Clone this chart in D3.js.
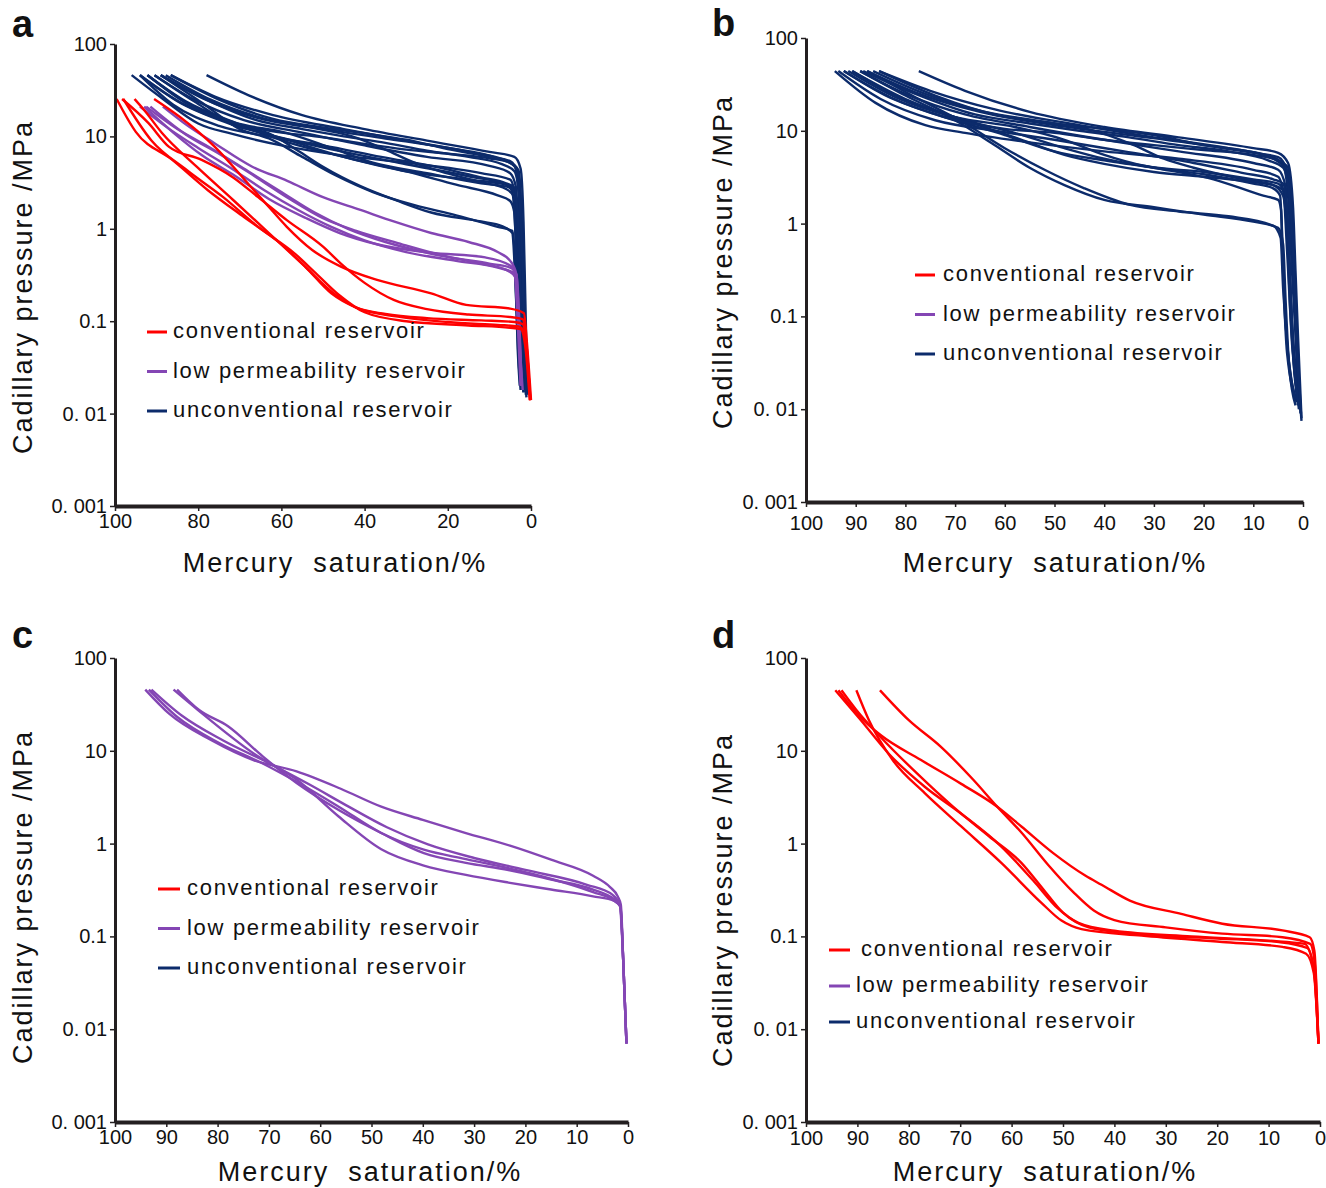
<!DOCTYPE html>
<html>
<head>
<meta charset="utf-8">
<script src="https://cdn.jsdelivr.net/npm/d3@7"></script>
<style>
  body { margin: 0; background: #fff; }
  svg { display: block; }
  text { font-family: "Liberation Sans", Arial, sans-serif; fill: #111; }
</style>
</head>
<body>
<div id="chart-area"></div>
<script>
// tick values and labels
const yTicks = [100, 10, 1, 0.1, 0.01, 0.001];
const yTickLabels = ["100", "10", "1", "0.1", "0. 01", "0. 001"];
const xTicksA = [100, 80, 60, 40, 20, 0];
const xTicksBCD = [100, 90, 80, 70, 60, 50, 40, 30, 20, 10, 0];

const legendLabels = ["conventional reservoir", "low permeability reservoir", "unconventional reservoir"];
const red = "#ff0000", purple = "#8446b4", navy = "#0c2b6b";
const legendColors = [red, purple, navy];

// curves: [mercury saturation %, capillary pressure MPa]
// panel a
const aConventional = [
  [[90.6,25.4],[84.4,16.2],[76,7.7],[67.3,2.83],[63,1.72],[58.7,1.05],[52.6,0.59],[45.7,0.39],[37,0.28],[24,0.2],[15.6,0.15],[5,0.137],[1.7,0.122],[1,0.06],[0,0.014]],
  [[98.3,25.4],[92,14],[87,7.7],[79.3,5.6],[71.6,3.6],[65.6,2.2],[58.7,1.24],[50,0.64],[45.7,0.42],[40,0.26],[33,0.17],[25,0.135],[15,0.118],[5,0.111],[2,0.105],[1,0.05],[0.2,0.014]],
  [[95.3,25.4],[93,19.3],[88.7,10.9],[80.3,4.67],[71.6,2.05],[63,0.9],[54.3,0.39],[47.4,0.2],[42,0.14],[35,0.12],[25,0.108],[12,0.102],[4,0.098],[2,0.093],[1,0.05],[0.2,0.014]],
  [[99.6,25.4],[95,11.2],[86.3,5.6],[77.6,2.6],[69,1.34],[60.3,0.7],[54.3,0.39],[48,0.2],[42,0.14],[32,0.112],[20,0.098],[8,0.091],[3,0.088],[1.5,0.075],[0.7,0.03],[0.1,0.014]],
  [[98,25.4],[91.3,9.1],[82.7,4.3],[74,2.2],[65.6,1.05],[57,0.55],[51.7,0.33],[46,0.19],[40,0.125],[30,0.1],[15,0.09],[5,0.085],[2.5,0.082],[1.3,0.05],[0.3,0.014]]
];
const aLowPerm = [
  [[88.5,21],[83,13.5],[76,8.4],[67,4.7],[58.6,3.3],[50,2.2],[41,1.6],[33,1.2],[24,0.9],[15,0.72],[8,0.56],[5,0.45],[3.5,0.32],[2.8,0.1],[2.3,0.02]],
  [[93,21],[86,11],[79,6.2],[71,3.7],[63,2.1],[54,1.3],[46,0.9],[37,0.68],[24,0.55],[11,0.49],[5,0.4],[3.6,0.32],[3,0.1],[2.4,0.02]],
  [[94,21],[88,13],[80,7.5],[72,4.5],[64,2.6],[56,1.6],[48,1.05],[40,0.75],[30,0.56],[18,0.45],[8,0.38],[4,0.33],[3.2,0.1],[2.5,0.02]],
  [[92.5,21],[85,12],[77,7.5],[68,4.2],[60,2.5],[52,1.5],[44,1],[35,0.72],[25,0.55],[12,0.42],[6,0.36],[3.8,0.3],[2.8,0.06],[2,0.018]],
  [[91.5,21],[83,10.5],[75,6.5],[66,3.6],[58,2.1],[50,1.3],[42,0.95],[32,0.7],[20,0.5],[10,0.42],[5,0.38],[3.5,0.32],[2.9,0.1],[2.2,0.02]]
];
const aUnconventional = [
  [[78,46],[68,28],[55,17],[40,12],[25,9],[10,6.8],[4,6],[2.5,4.5],[1.8,1.2],[1.4,0.2],[1.1,0.05],[0.8,0.016]],
  [[86.6,46],[76,27],[62,17],[45,12],[30,9],[15,6.8],[6,5.5],[3.5,4.5],[2.6,1.5],[2,0.2],[1.5,0.04],[1.2,0.017]],
  [[89,46],[79,26],[66,16],[50,12],[35,9.5],[20,7.5],[8,5.8],[4,4.8],[3,2.5],[2.4,0.3],[1.8,0.04],[1.5,0.018]],
  [[90.5,46],[81,25],[69,15],[55,11],[40,8],[25,6],[10,4.8],[5,4],[3.6,2.8],[3,0.6],[2.4,0.06],[2,0.02]],
  [[92.2,46],[83,24],[71,14],[58,8.5],[45,6],[30,4.2],[15,3.4],[6,3],[4,2.6],[3.3,0.6],[2.6,0.05],[2.2,0.02]],
  [[94,46],[85,24],[73,14],[58,9.2],[45,6.8],[30,5],[15,3.7],[6,3],[4.5,2.5],[3.6,0.7],[2.8,0.07],[2.3,0.02]],
  [[96,46],[88,24.5],[80,13.8],[72,10.7],[60,8],[45,6.2],[30,5.2],[12,4],[5,3.4],[3.5,1.8],[2.6,0.12],[2,0.018]],
  [[90.5,46],[81,24],[71,13],[63,10.8],[56,7],[50,4.7],[41,2.9],[32,2],[24,1.5],[12,1.2],[7,1.07],[4.5,0.9],[3.8,0.3],[3,0.04],[2.5,0.018]],
  [[89,46],[79,23],[70,12],[63,9.5],[55,6],[47,3.8],[38,2.5],[28,1.8],[18,1.4],[8,1.05],[4.5,0.95],[3.8,0.4],[3.2,0.05],[2.7,0.02]],
  [[92.2,46],[82,22],[70,13],[58,9],[45,6],[30,4.2],[18,3],[8,2.3],[5,2],[4,1.5],[3.4,0.3],[2.6,0.04],[2.2,0.018]],
  [[94,46],[84,23],[72,14],[60,11],[50,9.8],[40,8.3],[30,7.2],[20,6.5],[10,5.8],[5,5.2],[3,4.3],[2.2,1],[1.7,0.1],[1.2,0.016]],
  [[86.6,46],[75,25],[62,15.5],[50,12.5],[40,10.8],[30,9.2],[20,7.3],[10,6],[5,5.4],[3,3.8],[2.1,0.8],[1.6,0.06],[1.2,0.016]],
  [[87.8,46],[77,25],[65,16],[53,12.5],[43,10],[35,7.2],[28,5.2],[22,4.2],[12,3.2],[6,2.7],[4,2.2],[3.2,0.6],[2.5,0.05],[2,0.018]],
  [[89,46],[78,25],[66,15],[55,12],[45,10],[35,8.5],[25,7],[15,6],[7,5],[4,4.2],[2.8,2.2],[2.1,0.5],[1.5,0.04],[1.1,0.015]],
  [[92.2,46],[83,23],[71,14],[59,11],[48,7.5],[38,5.2],[25,4],[12,3.1],[5,2.8],[3.5,2.1],[2.9,0.4],[2.3,0.04],[1.8,0.017]],
  [[94,46],[86,22],[75,13],[63,10],[50,8],[36,6],[22,4.6],[12,3.6],[6,3.1],[4,2.8],[3,1],[2.3,0.08],[1.8,0.017]]
];
// panel b
const bUnconventional = [
  [[77.3,44],[68,27],[55,16],[40,11],[25,8.5],[10,6.5],[5,5.8],[3,4.5],[2,1.5],[1.5,0.3],[1,0.06],[0.3,0.008]],
  [[85.3,44],[75,27],[62,17],[45,11.5],[30,8.5],[15,6.5],[6,5.2],[3.5,4],[2.5,1.2],[1.8,0.2],[1,0.03],[0.4,0.009]],
  [[87.7,44],[78,26],[65,16],[50,11.5],[35,9],[20,7],[8,5.5],[4,4.2],[3,2],[2.2,0.3],[1.3,0.04],[0.5,0.01]],
  [[89.1,44],[80,25],[68,15],[55,11],[40,8],[25,6],[10,4.5],[5,3.8],[3.5,2.5],[3,0.6],[2,0.06],[0.8,0.012]],
  [[90.7,44],[82,24],[70,14],[58,8.5],[48,5.5],[40,4.4],[30,3.6],[20,3.2],[10,2.8],[6,2.6],[4,2.3],[3.2,0.5],[2.2,0.05],[1,0.012]],
  [[92.4,44],[84,24],[72,14],[60,9],[50,6],[40,4.8],[30,4],[20,3.4],[10,2.7],[6,2.4],[4.6,2],[4.1,0.5],[3.2,0.05],[1.2,0.012]],
  [[94.2,44],[86,20],[76,11.5],[68,9.5],[55,7.5],[40,6],[25,5],[10,3.8],[5,3.2],[3.5,1.5],[2.5,0.1],[1.2,0.014]],
  [[89.1,44],[80,24],[70,13],[62,7],[55,4],[48,2.6],[40,1.8],[30,1.5],[20,1.25],[10,1.05],[5,0.9],[4,0.6],[3.5,0.15],[2.8,0.03],[1.5,0.011]],
  [[87.7,44],[78,23],[68,12],[60,6.5],[52,3.8],[44,2.4],[35,1.6],[25,1.35],[15,1.2],[6,0.95],[4.5,0.7],[4,0.2],[3,0.04],[1.5,0.012]],
  [[90.7,44],[80,22],[68,13],[58,9.5],[48,6.5],[40,5],[30,4],[18,3],[8,2],[5,1.8],[4.4,1.4],[4,0.3],[3.2,0.04],[1.2,0.012]],
  [[92.4,44],[83,23],[72,14],[60,10.5],[50,9.5],[40,8],[30,7],[20,6.2],[10,5.5],[5,4.8],[3,4],[2.2,1],[1.6,0.1],[0.8,0.01]],
  [[85.3,44],[74,24],[62,15],[50,12],[40,10.5],[30,9],[20,7],[10,5.8],[5,5.2],[3,3.5],[2,0.8],[1.3,0.06],[0.5,0.009]],
  [[86.5,44],[76,25],[64,16],[52,12.5],[42,10],[34,7],[28,5],[22,4],[12,3],[6,2.6],[4,2],[3,0.6],[2,0.05],[0.8,0.01]],
  [[88.5,44],[78,25],[66,15],[55,12],[45,10],[35,8.5],[25,7],[15,6],[7,4.8],[4,4],[2.8,2.2],[2,0.5],[1.2,0.04],[0.3,0.0075]],
  [[91.5,44],[82,23],[70,14],[58,11],[48,8],[40,5.5],[32,4.2],[20,3.6],[10,3],[5,2.7],[3.5,2],[2.8,0.4],[2,0.04],[1,0.011]],
  [[93.5,44],[85,22],[74,13],[62,10],[50,8],[36,6],[22,4.5],[12,3.5],[6,3],[4,2.7],[3,1],[2.2,0.08],[1,0.012]]
];
// panel c
const cLowPerm = [
  [[94.1,45.7],[89.4,25],[81.2,13],[72.9,7.9],[64.6,6],[56,3.9],[48.1,2.5],[40,1.8],[31.6,1.3],[23,0.95],[15,0.67],[6.8,0.45],[3.5,0.34],[2,0.27],[1.4,0.22],[0.9,0.05],[0.3,0.007]],
  [[87.9,45.7],[83.6,27.5],[77.9,18.3],[71.2,8.7],[64.6,4.5],[56.4,2.3],[48.1,1.3],[39.8,0.79],[31.6,0.62],[23.3,0.52],[15,0.41],[6.8,0.32],[2.6,0.25],[1.5,0.22],[0.9,0.05],[0.3,0.007]],
  [[88.6,45.7],[84,28],[72.9,9.3],[64.6,4.9],[56.4,1.96],[48.1,0.87],[39.8,0.58],[31.6,0.46],[23.3,0.38],[15,0.32],[6.8,0.27],[2.6,0.24],[1.5,0.21],[0.9,0.05],[0.3,0.007]],
  [[93.4,45.7],[87.8,23],[79.5,12],[71.2,7.3],[62.9,4.1],[56.4,2.5],[48.1,1.3],[39.8,0.86],[31.6,0.68],[19.2,0.48],[6.8,0.3],[2.6,0.24],[1.5,0.21],[0.9,0.05],[0.3,0.007]],
  [[92.9,45.7],[87,24],[79,13],[70.5,7.6],[62,4.3],[55,2.6],[47,1.5],[39,0.98],[30,0.7],[20,0.52],[8,0.36],[3,0.28],[1.6,0.22],[0.9,0.05],[0.3,0.007]]
];
// panel d
const dConventional = [
  [[93.7,44.9],[89.4,23],[85.5,14.8],[77.7,8],[69.8,4.4],[62.8,2.5],[58.1,1.53],[51.9,0.79],[45.6,0.45],[42.5,0.36],[37,0.243],[27,0.175],[19,0.137],[7.3,0.116],[2,0.098],[1.1,0.07],[0.3,0.007]],
  [[85.6,44.9],[80,21.4],[73.8,11.1],[67.5,4.9],[62.8,2.5],[58,1.3],[53,0.6],[48,0.3],[44,0.19],[40,0.15],[30,0.125],[19,0.107],[7.3,0.098],[1.9,0.083],[1,0.05],[0.3,0.007]],
  [[90.2,44.9],[87.8,21.6],[83.1,7.9],[76.9,3.5],[69.8,1.53],[62,0.62],[54.2,0.23],[50.3,0.148],[46.4,0.12],[34.7,0.102],[19,0.087],[7.3,0.077],[2.7,0.065],[1.2,0.04],[0.3,0.007]],
  [[94.3,44.9],[89.4,21.6],[83.9,9.3],[76.9,4.1],[69.8,2.1],[62,0.93],[55.8,0.4],[51,0.2],[47,0.14],[40,0.115],[25,0.1],[10,0.09],[3,0.083],[1.2,0.045],[0.3,0.007]],
  [[93.1,44.9],[90.2,27.5],[85.5,14.1],[78.4,5.7],[71.4,2.5],[64.4,1.2],[58.1,0.62],[54,0.33],[50,0.18],[45,0.125],[35,0.105],[20,0.095],[8,0.087],[2.5,0.075],[1.2,0.045],[0.3,0.007]]
];

const svg = d3.select("#chart-area")
    .append("svg")
    .attr("width", 1326)
    .attr("height", 1188);

// layout of the four panels
const panels = [
  { tag: "a", left: 115, right: 531, top: 44, bottom: 506, xTicks: xTicksA, pad: 3,
    groups: [[aUnconventional, navy], [aLowPerm, purple], [aConventional, red]],
    tagPos: [12, 37], xTitle: [335, 572], yTitle: [32, 287],
    legend: { x: 147, y: 330, gap: 39.5, len: 20, tx: [173, 173, 173] } },
  { tag: "b", left: 806, right: 1303, top: 38, bottom: 502, xTicks: xTicksBCD, pad: 9,
    groups: [[bUnconventional, navy]],
    tagPos: [712, 36], xTitle: [1055, 572], yTitle: [732, 262],
    legend: { x: 915, y: 273, gap: 39.5, len: 20, tx: [943, 943, 943] } },
  { tag: "c", left: 115, right: 628, top: 658, bottom: 1122, xTicks: xTicksBCD, pad: 3,
    groups: [[cLowPerm, purple]],
    tagPos: [12, 648], xTitle: [370, 1181], yTitle: [32, 897],
    legend: { x: 158, y: 887, gap: 39.5, len: 22, tx: [187, 187, 187] } },
  { tag: "d", left: 806, right: 1320, top: 658, bottom: 1122, xTicks: xTicksBCD, pad: 4,
    groups: [[dConventional, red]],
    tagPos: [712, 648], xTitle: [1045, 1181], yTitle: [732, 900],
    legend: { x: 829, y: 948, gap: 36, len: 21, tx: [861, 856, 856] } }
];

panels.forEach(function (p) {
    const g = svg.append("g");

    const x = d3.scaleLinear().domain([100, 0]).range([p.left, p.right]);
    const y = d3.scaleLog().domain([0.001, 100]).range([p.bottom, p.top]);

    const line = d3.line()
        .x(function (d) { return x(d[0]); })
        .y(function (d) { return y(d[1]); })
        .curve(d3.curveMonotoneX);

    // curves
    p.groups.forEach(function (grp) {
        g.append("g").selectAll("path")
            .data(grp[0])
            .enter().append("path")
            .attr("d", line)
            .attr("fill", "none")
            .attr("stroke", grp[1])
            .attr("stroke-width", 2.4)
            .attr("stroke-linejoin", "round");
    });

    // y axis
    const yAxis = g.append("g")
        .attr("transform", "translate(" + p.left + ",0)")
        .call(d3.axisLeft(y).tickValues(yTicks)
            .tickFormat(function (d, i) { return yTickLabels[i]; })
            .tickSize(5).tickSizeOuter(0).tickPadding(3));
    // x axis
    const xAxis = g.append("g")
        .attr("transform", "translate(0," + p.bottom + ")")
        .call(d3.axisBottom(x).tickValues(p.xTicks)
            .tickSize(5).tickSizeOuter(0).tickPadding(p.pad));

    [yAxis, xAxis].forEach(function (ax) {
        ax.select(".domain").attr("stroke", "#231f20").attr("stroke-width", 3);
        ax.selectAll(".tick line").attr("stroke", "#231f20").attr("stroke-width", 1.5);
        ax.selectAll(".tick text")
            .attr("font-family", "Liberation Sans, Arial, sans-serif")
            .attr("font-size", 20)
            .attr("fill", "#111");
    });
    xAxis.select(".domain").attr("stroke-width", 4);

    // panel tag
    g.append("text")
        .attr("x", p.tagPos[0]).attr("y", p.tagPos[1])
        .attr("font-size", 38).attr("font-weight", "bold")
        .text(p.tag);

    // axis titles
    g.append("text")
        .attr("x", p.xTitle[0]).attr("y", p.xTitle[1])
        .attr("text-anchor", "middle")
        .attr("font-size", 27)
        .attr("letter-spacing", 2)
        .style("white-space", "pre")
        .text("Mercury  saturation/%");

    g.append("text")
        .attr("transform", "translate(" + p.yTitle[0] + "," + p.yTitle[1] + ") rotate(-90)")
        .attr("text-anchor", "middle")
        .attr("font-size", 27)
        .attr("letter-spacing", 2)
        .text("Cadillary pressure /MPa");

    // legend
    const lg = g.append("g");
    legendLabels.forEach(function (lab, i) {
        const ly = p.legend.y + i * p.legend.gap;
        lg.append("line")
            .attr("x1", p.legend.x).attr("x2", p.legend.x + p.legend.len)
            .attr("y1", ly + 2).attr("y2", ly + 2)
            .attr("stroke", legendColors[i])
            .attr("stroke-width", 3);
        lg.append("text")
            .attr("x", p.legend.tx[i]).attr("y", ly + 8)
            .attr("font-size", 22)
            .attr("letter-spacing", 1.7)
            .text(lab);
    });
});
</script>
</body>
</html>
